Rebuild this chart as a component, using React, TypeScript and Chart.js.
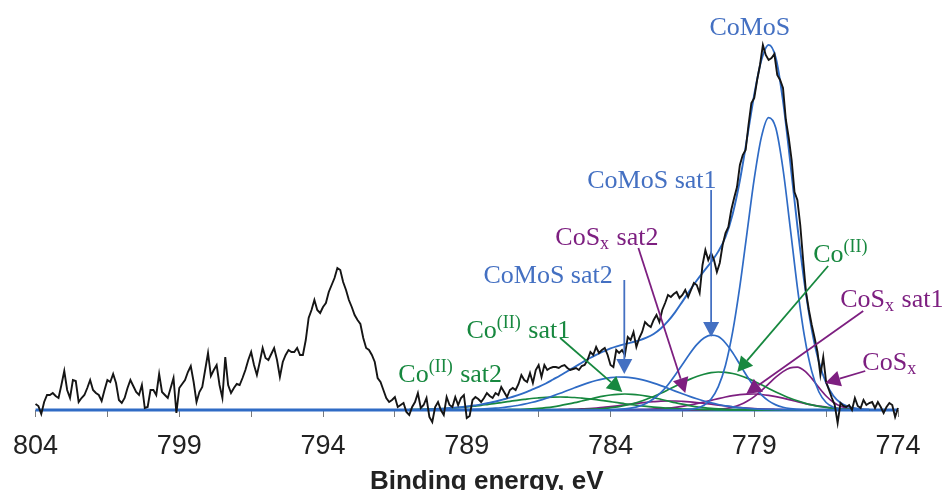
import React, { useEffect, useRef } from 'react';
import { Chart, registerables } from 'chart.js';

Chart.register(...registerables);

// ---- measured spectrum (binding energy from 804 eV downward, 0.1 eV step) ----
const expStartE = 804;
const expStepE = 0.1;
const expCounts = [
  6,
  4, -4, 8, 15, 15, 17, 14, 12, 25, 39,
  20, 12, 30, 29, 8, 12, 15, 22, 30, 20,
  17, 15, 9, 20, 30, 28, 36, 27, 10, 7,
  12, 22, 30, 24, 18, 15, 25, 2, 3, 20,
  20, 15, 36, 18, 15, 12, 22, 32, -3, 22,
  26, 30, 38, 44, 28, 8, 18, 23, 40, 57,
  34, 40, 45, 25, 12, 53, 25, 17, 22, 26,
  25, 32, 40, 50, 58, 45, 35, 48, 62, 52,
  50, 56, 62, 50, 33, 48, 55, 60, 58, 58,
  62, 55, 55, 70, 92, 100, 110, 100, 97, 103,
  107, 118, 125, 132, 142, 140, 128, 120, 110, 103,
  95, 90, 86, 72, 62, 60, 55, 48, 32, 28,
  20, 12, 8, 10, 13, 3, 5, 7, -2, -5,
  3, 8, 17, 2, 5, 12, -7, -12, 3, 8,
  0, -5, 13, 5, 3, 13, 5, 12, 15, -8,
  -6, 10, 13, 11, 8, 12, 17, 14, 12, 17,
  15, 23, 18, 13, 20, 22, 20, 26, 35, 30,
  28, 37, 27, 40, 45, 33, 45, 40, 42, 43,
  43, 42, 44, 45, 42, 40, 41, 42, 40, 44,
  45, 50, 58, 55, 63, 57, 60, 62, 55, 45,
  43, 60, 57, 60, 55, 73, 70, 78, 63, 72,
  78, 88, 85, 83, 90, 95, 88, 100, 107, 115,
  113, 116, 118, 112, 115, 120, 113, 120, 127, 125,
  117, 145, 160, 150, 157, 150, 138, 147, 165, 177,
  183, 200, 212, 223, 245, 255, 260, 285, 307, 312,
  330, 345, 365, 355, 350, 352, 356, 335, 330, 322,
  290, 272, 250, 218, 210, 185, 150, 118, 100, 85,
  72, 58, 35, 53, 28, 20, 12, 5, -13, 7,
  4, 3, 5, 0, 12, 4, 2, 10, 5, 7,
  8, 2, 8, 3, -3, 3, 7, 5, -7, 2,
];

// ---- fitted components on a common energy grid ----
const gridE = [
  791, 790.75, 790.5, 790.25, 790, 789.75, 789.5, 789.25, 789, 788.75,
  788.5, 788.25, 788, 787.75, 787.5, 787.25, 787, 786.75, 786.5, 786.25,
  786, 785.75, 785.5, 785.25, 785, 784.75, 784.5, 784.25, 784, 783.75,
  783.5, 783.25, 783, 782.75, 782.5, 782.25, 782, 781.75, 781.5, 781.25,
  781, 780.75, 780.5, 780.25, 780, 779.75, 779.5, 779.25, 779, 778.75,
  778.5, 778.25, 778, 777.75, 777.5, 777.25, 777, 776.75, 776.5, 776.25,
  776, 775.75, 775.5, 775.25, 775,
];
const envelope = [
  0.3, 0.4, 0.6, 0.8, 1.2, 1.6, 2.2, 2.8, 3.5, 4.5,
  5.6, 7.0, 8.5, 10.4, 12.3, 14.6, 17.1, 20.1, 23.1, 26.5,
  30.5, 34.5, 38.8, 43.0, 47.3, 51.5, 55.2, 58.5, 61.6, 63.9,
  65.9, 67.7, 69.6, 72.3, 76.0, 81.5, 88.8, 97.9, 108.4, 119.1,
  129.5, 138.9, 148.0, 158.6, 173.0, 196.1, 229.5, 271.8, 315.5, 350.1,
  365.1, 352.1, 309.2, 248.4, 183.9, 126.1, 80.5, 48.0, 27.0, 14.3,
  7.2, 3.6, 1.8, 0.9, 0.5,
];
const comos = [
  0, 0, 0, 0, 0, 0, 0, 0, 0, 0,
  0, 0, 0, 0, 0, 0, 0, 0, 0, 0,
  0, 0, 0, 0, 0, 0, 0, 0, 0, 0,
  0, 0, 0, 0, 0, 0, 0, 0, 0.2, 0.6,
  1.8, 4.7, 11.0, 23.3, 44.8, 78.3, 123.8, 177.7, 231.3, 273.1,
  292.4, 281.9, 241.0, 182.7, 122.7, 73.1, 38.6, 18.0, 7.5, 2.8,
  0.9, 0.3, 0.1, 0, 0,
];
const comosSat1 = [
  0, 0, 0, 0, 0, 0, 0, 0, 0, 0,
  0, 0, 0, 0, 0, 0, 0, 0, 0, 0,
  0, 0, 0, 0, 0, 0, 0, 0, 0.2, 0.5,
  1.1, 2.1, 3.9, 6.8, 11.2, 17.3, 25.2, 34.9, 45.5, 56.1,
  65.4, 72.0, 74.9, 73.4, 67.0, 57.2, 45.5, 33.8, 23.4, 15.1,
  9.1, 5.1, 2.7, 1.3, 0.6, 0.2, 0, 0, 0, 0,
  0, 0, 0, 0, 0,
];
const comosSat2 = [
  0, 0, 0, 0, 0.1, 0.1, 0.2, 0.3, 0.4, 0.6,
  0.9, 1.3, 1.8, 2.5, 3.3, 4.5, 5.8, 7.5, 9.4, 11.6,
  14.1, 16.7, 19.5, 22.2, 24.9, 27.4, 29.5, 31.2, 32.4, 33.0,
  32.9, 32.2, 30.9, 29.1, 26.9, 24.4, 21.7, 18.9, 16.2, 13.6,
  11.2, 9.0, 7.1, 5.5, 4.2, 3.2, 2.3, 1.7, 1.2, 0.8,
  0.6, 0.4, 0.2, 0.2, 0.1, 0, 0, 0, 0, 0,
  0, 0, 0, 0, 0,
];
const co2 = [
  0, 0, 0, 0, 0, 0, 0, 0, 0, 0,
  0, 0, 0, 0, 0, 0, 0, 0, 0, 0,
  0.1, 0.1, 0.2, 0.3, 0.4, 0.7, 1.0, 1.5, 2.3, 3.2,
  4.5, 6.2, 8.2, 10.7, 13.5, 16.7, 20.2, 23.8, 27.3, 30.6,
  33.5, 35.8, 37.3, 38.0, 37.7, 36.5, 34.5, 31.9, 28.7, 25.2,
  21.6, 18.1, 14.8, 11.8, 9.2, 6.9, 5.1, 3.7, 2.6, 1.8,
  1.2, 0.8, 0.5, 0.3, 0.2,
];
const co2Sat1 = [
  0, 0, 0, 0, 0, 0, 0, 0, 0, 0,
  0, 0, 0.1, 0.2, 0.3, 0.4, 0.7, 1.1, 1.6, 2.3,
  3.2, 4.4, 5.8, 7.3, 9.0, 10.7, 12.4, 13.9, 15.0, 15.7,
  16.0, 15.7, 15.0, 13.9, 12.4, 10.7, 9.0, 7.3, 5.8, 4.4,
  3.2, 2.3, 1.6, 1.1, 0.7, 0.4, 0.3, 0.2, 0.1, 0,
  0, 0, 0, 0, 0, 0, 0, 0, 0, 0,
  0, 0, 0, 0, 0,
];
const co2Sat2 = [
  0.3, 0.4, 0.6, 0.8, 1.1, 1.5, 2.0, 2.5, 3.1, 3.9,
  4.7, 5.7, 6.6, 7.7, 8.7, 9.7, 10.6, 11.5, 12.1, 12.6,
  12.9, 13.0, 12.8, 12.5, 11.9, 11.2, 10.3, 9.3, 8.3, 7.3,
  6.2, 5.3, 4.4, 3.6, 2.9, 2.3, 1.8, 1.3, 1.0, 0.7,
  0.5, 0.4, 0.3, 0.2, 0.1, 0, 0, 0, 0, 0,
  0, 0, 0, 0, 0, 0, 0, 0, 0, 0,
  0, 0, 0, 0, 0,
];
const cosx = [
  0, 0, 0, 0, 0, 0, 0, 0, 0, 0,
  0, 0, 0, 0, 0, 0, 0, 0, 0, 0,
  0, 0, 0, 0, 0, 0, 0, 0, 0, 0,
  0, 0, 0, 0, 0, 0, 0, 0, 0, 0,
  0, 0, 0.3, 0.8, 1.5, 2.9, 5.2, 8.7, 13.4, 19.4,
  26.1, 32.8, 38.4, 42.1, 42.9, 39.2, 31.6, 22.4, 14.0, 7.7,
  3.7, 1.6, 0.6, 0.2, 0.1,
];
const cosxSat1 = [
  0, 0, 0, 0, 0, 0, 0, 0, 0, 0,
  0, 0, 0, 0, 0, 0, 0, 0, 0, 0,
  0, 0, 0, 0, 0, 0, 0, 0, 0, 0,
  0.1, 0.2, 0.3, 0.5, 0.8, 1.3, 1.9, 2.7, 3.7, 4.9,
  6.4, 8.0, 9.7, 11.4, 13.0, 14.4, 15.4, 15.9, 16.0, 15.5,
  14.6, 13.3, 11.8, 10.1, 8.3, 6.7, 5.2, 3.9, 2.9, 2.0,
  1.4, 0.9, 0.6, 0.4, 0.2,
];
const cosxSat2 = [
  0, 0, 0, 0, 0, 0, 0, 0, 0, 0,
  0, 0, 0, 0, 0, 0, 0, 0, 0, 0,
  0.2, 0.3, 0.5, 0.7, 1.1, 1.5, 2.0, 2.6, 3.4, 4.2,
  5.1, 6.0, 6.9, 7.7, 8.3, 8.8, 9.0, 9.0, 8.7, 8.2,
  7.5, 6.7, 5.8, 4.9, 4.0, 3.2, 2.5, 1.9, 1.4, 1.0,
  0.7, 0.5, 0.3, 0.2, 0.1, 0, 0, 0, 0, 0,
  0, 0, 0, 0, 0,
];

const tickLabels = [804, 799, 794, 789, 784, 779, 774];
const axisTitle = 'Binding energy, eV';

// ---- styles ----
const BLUE_LINE = '#2f6bc5';
const BLUE_TEXT = '#4470c2';
const GREEN = '#17883f';
const PURPLE = '#7d1f80';
const BLACK = '#151515';

type Part = [string, 'n' | 'sup' | 'sub'];
interface Ann {
  parts: Part[];
  color: string;
  at: [number, number];
  arrow?: [number, number, number, number];
}

// annotation anchors in data units (energy, intensity)
const annotations: Ann[] = [
  { parts: [['CoMoS', 'n']], color: BLUE_TEXT, at: [780.56, 375] },
  { parts: [['CoMoS sat1', 'n']], color: BLUE_TEXT, at: [784.81, 222], arrow: [780.5, 220, 780.5, 73] },
  { parts: [['CoMoS sat2', 'n']], color: BLUE_TEXT, at: [788.42, 127], arrow: [783.52, 130, 783.52, 36] },
  { parts: [['CoS', 'n'], ['x', 'sub'], [' sat2', 'n']], color: PURPLE, at: [785.92, 165], arrow: [783.03, 162, 781.4, 17] },
  { parts: [['Co', 'n'], ['(II)', 'sup']], color: GREEN, at: [776.95, 148], arrow: [776.43, 144, 779.59, 38] },
  { parts: [['CoS', 'n'], ['x', 'sub'], [' sat1', 'n']], color: PURPLE, at: [776.01, 103], arrow: [775.21, 99, 779.28, 16] },
  { parts: [['CoS', 'n'], ['x', 'sub']], color: PURPLE, at: [775.24, 40], arrow: [775.14, 39, 776.53, 27] },
  { parts: [['Co', 'n'], ['(II)', 'sup'], [' sat1', 'n']], color: GREEN, at: [789.01, 72], arrow: [785.75, 72, 783.59, 18] },
  { parts: [['Co', 'n'], ['(II)', 'sup'], [' sat2', 'n']], color: GREEN, at: [791.38, 28] },
];

const SERIF = '"Liberation Serif", "Times New Roman", serif';
const SANS = '"Liberation Sans", Arial, sans-serif';

const annotationPlugin = {
  id: 'xpsAnnotations',
  afterDraw(chart: any) {
    const { ctx, scales, chartArea } = chart;
    const xs = scales.x;
    const ys = scales.y;
    ctx.save();
    for (const a of annotations) {
      if (a.arrow) {
        const x1 = xs.getPixelForValue(a.arrow[0]);
        const y1 = ys.getPixelForValue(a.arrow[1]);
        const x2 = xs.getPixelForValue(a.arrow[2]);
        const y2 = ys.getPixelForValue(a.arrow[3]);
        const ang = Math.atan2(y2 - y1, x2 - x1);
        const L = 15;
        const W = 8;
        const bx = x2 - L * Math.cos(ang);
        const by = y2 - L * Math.sin(ang);
        ctx.strokeStyle = a.color;
        ctx.lineWidth = 1.8;
        ctx.beginPath();
        ctx.moveTo(x1, y1);
        ctx.lineTo(bx, by);
        ctx.stroke();
        ctx.fillStyle = a.color;
        ctx.beginPath();
        ctx.moveTo(x2, y2);
        ctx.lineTo(bx + W * Math.sin(ang), by - W * Math.cos(ang));
        ctx.lineTo(bx - W * Math.sin(ang), by + W * Math.cos(ang));
        ctx.closePath();
        ctx.fill();
      }
      let px = xs.getPixelForValue(a.at[0]);
      const py = ys.getPixelForValue(a.at[1]);
      ctx.fillStyle = a.color;
      ctx.textAlign = 'left';
      ctx.textBaseline = 'alphabetic';
      for (const [t, kind] of a.parts) {
        const size = kind === 'n' ? 26 : 18;
        const dy = kind === 'sup' ? -10 : kind === 'sub' ? 4 : 0;
        ctx.font = `${size}px ${SERIF}`;
        ctx.fillText(t, px, py + dy);
        px += ctx.measureText(t).width + (kind === 'n' ? 0 : 1);
      }
    }
    // axis title
    ctx.fillStyle = '#222';
    ctx.font = `bold 26px ${SANS}`;
    ctx.textAlign = 'center';
    ctx.textBaseline = 'alphabetic';
    ctx.fillText(axisTitle, (chartArea.left + chartArea.right) / 2 + 20, chart.height - 1);
    ctx.restore();
  },
};

function gridSeries(values: number[]) {
  return gridE.map((e, i) => ({ x: e, y: values[i] }));
}

function componentDataset(values: number[], color: string, width = 1.7) {
  return {
    data: gridSeries(values),
    borderColor: color,
    borderWidth: width,
    showLine: true,
    pointRadius: 0,
    cubicInterpolationMode: 'monotone' as const,
    clip: false as const,
  };
}

export default function App() {
  const canvasRef = useRef<HTMLCanvasElement | null>(null);

  useEffect(() => {
    if (!canvasRef.current) return;
    const expData = expCounts.map((v, i) => ({
      x: Math.round((expStartE - i * expStepE) * 100) / 100,
      y: v,
    }));
    const chart = new Chart(canvasRef.current, {
      type: 'scatter',
      data: {
        datasets: [
          {
            data: expData,
            borderColor: BLACK,
            borderWidth: 1.9,
            showLine: true,
            pointRadius: 0,
            tension: 0,
            clip: false,
          } as any,
          componentDataset(envelope, BLUE_LINE, 1.9),
          componentDataset(comos, BLUE_LINE),
          componentDataset(comosSat1, BLUE_LINE),
          componentDataset(comosSat2, BLUE_LINE),
          componentDataset(co2, GREEN),
          componentDataset(co2Sat1, GREEN),
          componentDataset(co2Sat2, GREEN),
          componentDataset(cosx, PURPLE),
          componentDataset(cosxSat1, PURPLE),
          componentDataset(cosxSat2, PURPLE),
          {
            data: [
              { x: 804, y: 0 },
              { x: 774, y: 0 },
            ],
            borderColor: BLUE_LINE,
            borderWidth: 2.8,
            showLine: true,
            pointRadius: 0,
            clip: false,
          } as any,
        ],
      },
      options: {
        responsive: false,
        animation: false,
        devicePixelRatio: 1,
        layout: { padding: { left: 35, right: 48, top: 10, bottom: 0 } },
        plugins: {
          legend: { display: false },
          tooltip: { enabled: false },
          title: { display: false },
        },
        events: [],
        scales: {
          x: {
            type: 'linear',
            reverse: true,
            min: 774,
            max: 804,
            afterFit: (scale: any) => {
              scale.height = 80;
            },
            ticks: {
              stepSize: 2.5,
              autoSkip: false,
              maxRotation: 0,
              padding: 13,
              color: '#222',
              font: { family: SANS, size: 27 },
              callback: (v: any) => {
                const n = Math.round(Number(v) * 100) / 100;
                return tickLabels.includes(n) ? String(n) : '';
              },
            },
            grid: {
              drawOnChartArea: false,
              drawTicks: true,
              tickLength: 7,
              color: '#7a7a7a',
              lineWidth: 1,
            },
            border: { display: true, color: '#7a7a7a' },
          },
          y: { display: false, min: 0, max: 400 },
        },
      } as any,
      plugins: [annotationPlugin],
    });
    return () => chart.destroy();
  }, []);

  return (
    <div style={{ position: 'absolute', left: 0, top: 0, width: 946, height: 490, background: '#fff' }}>
      <canvas ref={canvasRef} width={946} height={490} style={{ width: 946, height: 490, display: 'block' }} />
    </div>
  );
}
